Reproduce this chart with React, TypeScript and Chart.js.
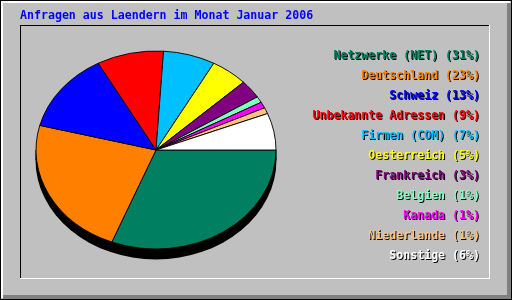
import { useEffect, useRef } from "react";
import { Chart, registerables } from "chart.js";

Chart.register(...registerables);

const TITLE = "Anfragen aus Laendern im Monat Januar 2006";
const countries = [
  "Netzwerke (NET)",
  "Deutschland",
  "Schweiz",
  "Unbekannte Adressen",
  "Firmen (COM)",
  "Oesterreich",
  "Frankreich",
  "Belgien",
  "Kanada",
  "Niederlande",
  "Sonstige",
];
const shares = [31, 23, 13, 9, 7, 5, 3, 1, 1, 1, 6];
const sliceColors = [
  "#008060",
  "#FF8000",
  "#0000FF",
  "#FF0000",
  "#00C0FF",
  "#FFFF00",
  "#800080",
  "#80FFC0",
  "#FF00FF",
  "#FFC080",
  "#FFFFFF",
];

const W = 512;
const H = 300;
const SY = 99 / 120; // vertical squash for elliptic pie
const DEPTH = 10;
const FONT = 'bold 11.6px "DejaVu Sans Mono", "Liberation Mono", monospace';

const framePlugin = {
  id: "webalizerFrame",
  beforeDraw(chart: any) {
    const ctx: CanvasRenderingContext2D = chart.ctx;
    ctx.save();
    ctx.fillStyle = "#C0C0C0";
    ctx.fillRect(0, 0, W, H);
    // outer black outline
    ctx.fillStyle = "#000000";
    ctx.fillRect(0, 0, W, 1);
    ctx.fillRect(0, 0, 1, H);
    ctx.fillRect(W - 1, 0, 1, H);
    ctx.fillRect(0, H - 1, W, 1);
    // raised bevel
    ctx.fillStyle = "#FFFFFF";
    ctx.fillRect(1, 1, W - 3, 2);
    ctx.fillRect(1, 1, 2, H - 3);
    ctx.fillStyle = "#808080";
    ctx.fillRect(W - 5, 3, 4, H - 4);
    ctx.fillRect(3, H - 5, W - 4, 4);
    // inner sunken panel
    ctx.fillStyle = "#000000";
    ctx.fillRect(20, 25, 470, 1);
    ctx.fillRect(20, 25, 1, 254);
    ctx.fillStyle = "#FFFFFF";
    ctx.fillRect(20, 278, 470, 1);
    ctx.fillRect(489, 25, 1, 254);

    // title
    ctx.font = FONT;
    ctx.textBaseline = "alphabetic";
    ctx.textAlign = "left";
    ctx.fillStyle = "#0000FF";
    ctx.fillText(TITLE, 20, 19);

    // legend
    ctx.textAlign = "right";
    const labels: string[] = chart.data.labels;
    const values: number[] = chart.data.datasets[0].data;
    const colors: string[] = chart.data.datasets[0].backgroundColor;
    labels.forEach((lab, i) => {
      const txt = `${lab} (${values[i]}%)`;
      const y = 59 + i * 20;
      ctx.fillStyle = "#000000";
      ctx.fillText(txt, 481, y + 1);
      ctx.fillStyle = colors[i];
      ctx.fillText(txt, 480, y);
    });
    ctx.restore();
  },
  beforeDatasetsDraw(chart: any) {
    const ctx: CanvasRenderingContext2D = chart.ctx;
    const arc = chart.getDatasetMeta(0).data[0];
    const x = arc.x;
    const y = arc.y;
    const r = arc.outerRadius;
    ctx.save();
    // 3D side (cylinder) in black
    ctx.fillStyle = "#000000";
    ctx.beginPath();
    ctx.ellipse(x, y + DEPTH, r + 0.5, (r + 0.5) * SY, 0, 0, Math.PI * 2);
    ctx.fill();
    ctx.fillRect(x - r - 0.5, y, 2 * r + 1, DEPTH);
    // squash the pie into an ellipse
    ctx.translate(x, y);
    ctx.scale(1, SY);
    ctx.translate(-x, -y);
  },
  afterDatasetsDraw(chart: any) {
    chart.ctx.restore();
  },
};

export default function App() {
  const ref = useRef<HTMLCanvasElement | null>(null);

  useEffect(() => {
    document.body.style.margin = "0";
    const canvas = ref.current;
    if (!canvas) return;
    const chart = new Chart(canvas, {
      type: "pie",
      data: {
        labels: countries,
        datasets: [
          {
            data: shares,
            backgroundColor: sliceColors,
            borderColor: "#000000",
            borderWidth: 1,
            hoverOffset: 0,
          },
        ],
      },
      options: {
        responsive: false,
        devicePixelRatio: 1,
        animation: false,
        rotation: 90,
        layout: { padding: { left: 35.5, right: 235.5, top: 29.5, bottom: 29.5 } },
        plugins: {
          legend: { display: false },
          title: { display: false },
          tooltip: { enabled: false },
        },
        events: [],
      },
      plugins: [framePlugin],
    } as any);
    return () => chart.destroy();
  }, []);

  return (
    <canvas
      ref={ref}
      width={W}
      height={H}
      style={{ display: "block", width: W, height: H }}
    />
  );
}
